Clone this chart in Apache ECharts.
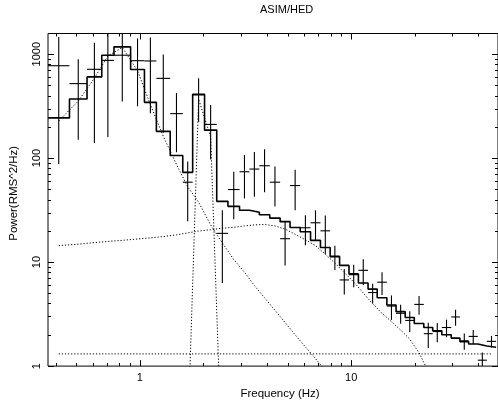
<!DOCTYPE html>
<html><head><meta charset="utf-8">
<script src="https://cdn.jsdelivr.net/npm/echarts@6/dist/echarts.min.js"></script>
<style>html,body{margin:0;padding:0;background:#fff}#c{width:498px;height:405px}</style>
</head><body><div id="c"></div>
<script>
// ---- data ----
const binEdges = [0.368, 0.465, 0.563, 0.661, 0.755, 0.905, 1.052, 1.198, 1.393, 1.597, 1.779, 2.025, 2.312, 2.613, 2.964, 3.301, 3.678, 4.120, 4.613, 5.139, 5.742, 6.425, 7.156, 7.955, 8.814, 9.766, 10.82, 12.02, 13.28, 14.75, 16.31, 18.01, 19.89, 22.06, 24.31, 26.84, 29.74, 32.69, 35.96, 39.72, 43.85, 48.49];
const power = [774, 521, 715, 871, 977, 865, 860, 585, 268, 58.7, 405, 211, 18.9, 49.9, 74, 78.5, 84.5, 58.7, 16.8, 54.5, 21.4, 23.9, 20.0, 11.4, 6.74, 7.57, 8.34, 5.1, 6.41, 3.78, 3.22, 2.75, 3.92, 2.05, 2.15, 2.35, 2.97, 1.75, 1.93, 1.14, 1.73];
const powerErr = [686, 371, 575, 711, 626, 550, 590, 410, 154, 34, 182, 114, 12.6, 24, 33, 36, 37.5, 24.5, 7.5, 23, 6.9, 7.6, 8.0, 3.0, 1.87, 1.85, 2.3, 1.1, 1.57, 1.0, 0.67, 0.62, 0.81, 0.56, 0.45, 0.45, 0.52, 0.31, 0.3, 0.21, 0.22];
const modelTotal = [244, 370, 604, 977, 1175, 712, 344, 181, 106, 73, 412, 186, 38.4, 34.4, 31.5, 30.2, 28.5, 26.5, 24.5, 21.5, 19.6, 16.2, 13.8, 11.3, 9.3, 7.7, 6.3, 5.5, 4.54, 3.87, 3.34, 2.93, 2.57, 2.35, 2.19, 2.0, 1.86, 1.72, 1.63, 1.56, 1.52];
const compLowFreq = [228, 354, 588, 960, 1158, 695, 326, 162, 87, 53, 37.7, 22.8, 15.3, 10.6, 8.0, 5.95, 4.54, 3.44, 2.62, 2.0, 1.53, 1.18, 0.906, 0.70, 0.55, 0.44, 0.36, 0.29, 0.24, 0.2, 0.17, 0.14, 0.12, 0.1, 0.085, 0.073, 0.063, 0.055, 0.048, 0.042, 0.037];
const qpoBins = [9, 10, 11, 12];
const compQPO = [0.2, 370, 160, 0.1];
const compBroad = [14.4, 14.9, 15.4, 15.8, 16.2, 16.7, 17.1, 17.6, 18.3, 19.1, 19.9, 20.5, 21.2, 21.6, 22.3, 22.8, 23.0, 22.3, 20.8, 18.5, 16.4, 14.4, 11.9, 9.8, 7.94, 6.45, 5.05, 3.98, 3.22, 2.68, 2.22, 1.82, 1.34, 0.89, 0.56, 0.34, 0.21, 0.13, 0.08, 0.05, 0.03];
const compConst = [1.31, 1.31, 1.31, 1.31, 1.31, 1.31, 1.31, 1.31, 1.31, 1.31, 1.31, 1.31, 1.31, 1.31, 1.31, 1.31, 1.31, 1.31, 1.31, 1.31, 1.31, 1.31, 1.31, 1.31, 1.31, 1.31, 1.31, 1.31, 1.31, 1.31, 1.31, 1.31, 1.31, 1.31, 1.31, 1.31, 1.31, 1.31, 1.31, 1.31, 1.31];
const xMajorTicks = [1, 10];
const xTickLabels = ['1', '10'];
const xMinorTicks = [0.4, 0.5, 0.6, 0.7, 0.8, 0.9, 2, 3, 4, 5, 6, 7, 8, 9, 20, 30, 40];
const yMajorTicks = [1, 10, 100, 1000];
const yTickLabels = ['1', '10', '100', '1000'];
const yMinorTicks = [2, 3, 4, 5, 6, 7, 8, 9, 20, 30, 40, 50, 60, 70, 80, 90, 200, 300, 400, 500, 600, 700, 800, 900];
const titleText = 'ASIM/HED';
const xName = 'Frequency (Hz)';
const yName = 'Power(RMS^2/Hz)';

// ---- chart ----
const X_MIN = 0.368, X_MAX = 49.5, Y_MIN = 1, Y_MAX = 1580;
const FONT = 'Liberation Sans, Arial, Helvetica, sans-serif';
const centers = power.map((_, i) => Math.sqrt(binEdges[i] * binEdges[i + 1]));
const stepData = [];
modelTotal.forEach((m, i) => { stepData.push([binEdges[i], m], [binEdges[i + 1], m]); });
const comp = vals => vals.map((v, i) => [centers[i], v]);
const qpoData = qpoBins.map((b, k) => [centers[b], compQPO[k]]);

const tickData = [];
xMajorTicks.forEach(v => tickData.push([v, Y_MIN, 0, 6]));
xMinorTicks.forEach(v => tickData.push([v, Y_MIN, 0, 3]));
yMajorTicks.forEach(v => tickData.push([X_MIN, v, 1, 6]));
yMinorTicks.forEach(v => tickData.push([X_MIN, v, 1, 3]));

function clampPt(p, cs) {
  return [Math.min(Math.max(p[0], cs.x), cs.x + cs.width), Math.min(Math.max(p[1], cs.y), cs.y + cs.height)];
}
const dotted = { color: '#000', width: 1, type: [1.2, 1.9] };
const dotSeries = data => ({ type: 'line', data, symbol: 'none', lineStyle: dotted, clip: true, z: 2, silent: true });
const labelFmt = (ticks, labels) => v => {
  const i = ticks.findIndex(t => Math.abs(t - v) / t < 1e-6);
  return i >= 0 ? labels[i] : '';
};

const chart = echarts.init(document.getElementById('c'), null, { renderer: 'canvas' });
chart.setOption({
  animation: false,
  backgroundColor: '#fff',
  title: { text: titleText, left: 260, top: 4, padding: 0,
    textStyle: { fontSize: 11, fontWeight: 'normal', color: '#000', fontFamily: FONT } },
  grid: { left: 46.5, top: 33.5, width: 454.5, height: 336, show: true,
    borderColor: '#000', borderWidth: 1, backgroundColor: 'transparent' },
  xAxis: {
    type: 'log', logBase: 10, min: X_MIN, max: X_MAX,
    axisLine: { show: false }, axisTick: { show: false }, splitLine: { show: false },
    axisLabel: { margin: 6, fontSize: 11, color: '#000', fontFamily: FONT,
      showMinLabel: false, showMaxLabel: false, formatter: labelFmt(xMajorTicks, xTickLabels) },
    name: xName, nameLocation: 'middle', nameGap: 19,
    nameTextStyle: { fontSize: 11.5, color: '#000', fontFamily: FONT, padding: [0, 0, 0, 14] }
  },
  yAxis: {
    type: 'log', logBase: 10, min: Y_MIN, max: Y_MAX,
    axisLine: { show: false }, axisTick: { show: false }, splitLine: { show: false },
    axisLabel: { margin: 6, fontSize: 11, color: '#000', fontFamily: FONT, rotate: 90,
      showMinLabel: true, showMaxLabel: false, formatter: labelFmt(yMajorTicks, yTickLabels) },
    name: yName, nameLocation: 'middle', nameGap: 28, nameRotate: 90,
    nameTextStyle: { fontSize: 11.5, color: '#000', fontFamily: FONT, padding: [0, 0, 0, 13] }
  },
  series: [
    dotSeries(comp(compLowFreq)),
    dotSeries(qpoData),
    dotSeries(comp(compBroad)),
    dotSeries(comp(compConst)),
    { type: 'line', data: stepData, symbol: 'none', clip: true, z: 4, silent: true,
      lineStyle: { color: '#000', width: 1.6 } },
    { type: 'custom', z: 5, silent: true,
      data: power.map((p, i) => [centers[i], p, binEdges[i], binEdges[i + 1], powerErr[i]]),
      encode: { x: 0, y: 1 },
      renderItem: (params, api) => {
        const cs = params.coordSys;
        const f = api.value(0), p = api.value(1), lo = api.value(2), hi = api.value(3), e = api.value(4);
        const a = clampPt(api.coord([lo, p]), cs), b = clampPt(api.coord([hi, p]), cs);
        const c = clampPt(api.coord([f, p + e]), cs), d = clampPt(api.coord([f, Math.max(p - e, 1e-6)]), cs);
        const st = { stroke: '#000', lineWidth: 1.1 };
        return { type: 'group', children: [
          { type: 'line', shape: { x1: a[0], y1: a[1], x2: b[0], y2: b[1] }, style: st },
          { type: 'line', shape: { x1: c[0], y1: c[1], x2: d[0], y2: d[1] }, style: st }
        ] };
      } },
    { type: 'custom', z: 6, silent: true, data: tickData, encode: { x: 0, y: 1 },
      renderItem: (params, api) => {
        const cs = params.coordSys;
        const pt = api.coord([api.value(0), api.value(1)]);
        const L = api.value(3);
        const st = { stroke: '#000', lineWidth: 1 };
        let s1, s2;
        if (api.value(2) === 0) {
          const x = Math.round(pt[0]) + 0.5;
          s1 = { x1: x, y1: cs.y + cs.height, x2: x, y2: cs.y + cs.height - L };
          s2 = { x1: x, y1: cs.y, x2: x, y2: cs.y + L };
        } else {
          const y = Math.round(pt[1]) + 0.5;
          s1 = { x1: cs.x, y1: y, x2: cs.x + L, y2: y };
          s2 = { x1: cs.x + cs.width, y1: y, x2: cs.x + cs.width - L, y2: y };
        }
        return { type: 'group', children: [
          { type: 'line', shape: s1, style: st }, { type: 'line', shape: s2, style: st }] };
      } }
  ]
});
</script></body></html>
